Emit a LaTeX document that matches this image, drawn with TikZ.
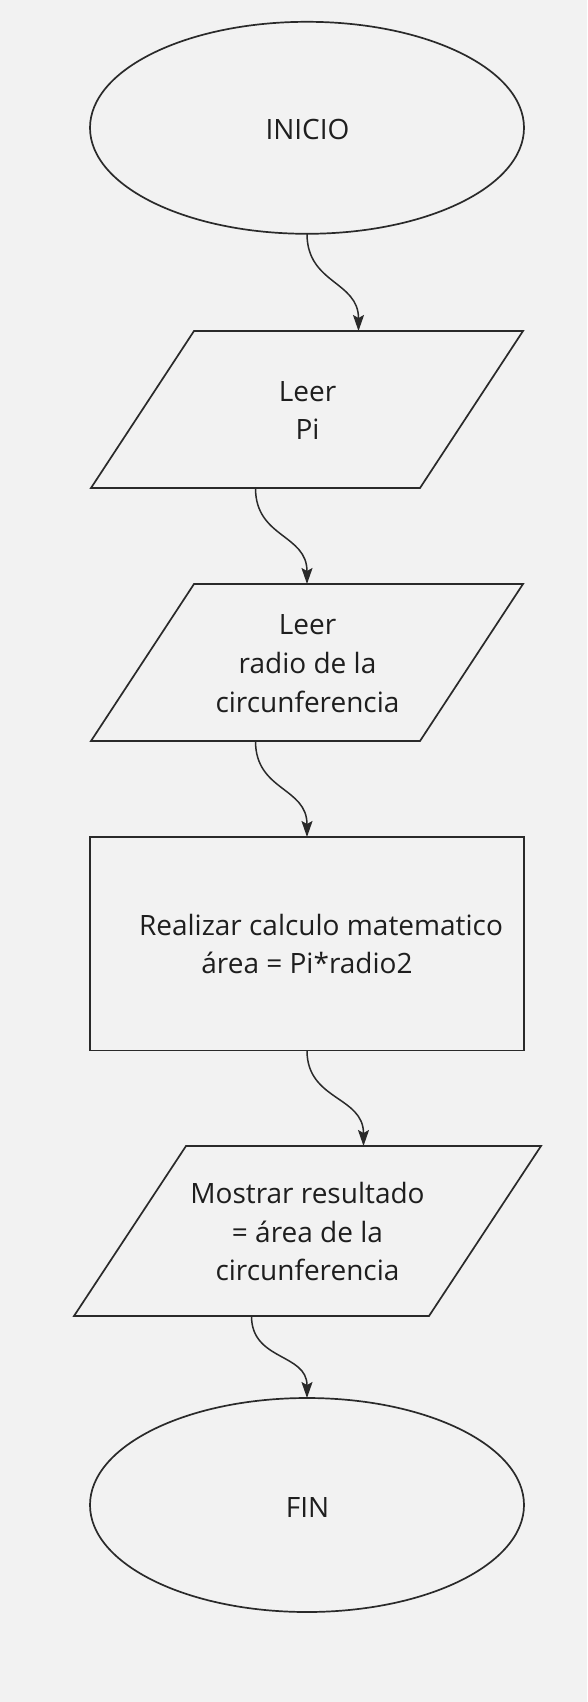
\documentclass[tikz,border=0pt]{standalone}
\usepackage{fontspec}
\setmainfont{Open Sans}
\usetikzlibrary{arrows.meta,shapes.geometric}
\definecolor{bg}{HTML}{F2F2F2}
\definecolor{ln}{HTML}{2A2A2A}
\definecolor{tx}{HTML}{1E1E1E}
\begin{document}
\begin{tikzpicture}[x=1pt,y=-1pt,
  shp/.style={draw=ln, line width=1.7pt, inner sep=0pt, outer sep=0pt},
  term/.style={shp, ellipse, minimum width=434pt, minimum height=212pt},
  procbox/.style={shp, rectangle, minimum width=434pt, minimum height=213.5pt},
  iobox/.style={rectangle, draw=none, inner sep=0pt, outer sep=0pt},
  txt/.style={anchor=base, inner sep=0pt, outer sep=0pt, text=tx, font=\fontsize{28}{38}\selectfont},
  flow/.style={draw=ln, line width=1.5pt, -{Stealth[length=16pt,width=11pt,inset=3pt]}},
]
\fill[bg] (0,0) rectangle (587,1702);
\useasboundingbox (0,0) rectangle (587,1702);

% INICIO
\node[term] (ini) at (307,127.8) {};
\node[txt] (tini) at (307.5,139) {INICIO};

% Leer Pi
\node[iobox, minimum width=329pt, minimum height=157pt] (p1) at (307,409.5) {};
\draw[shp] ([xshift=51.5pt]p1.north west) -- ([xshift=51.5pt]p1.north east)
  -- ([xshift=-51.5pt]p1.south east) -- ([xshift=-51.5pt]p1.south west) -- cycle;
\node[txt] (t1a) at (307.5,401) {Leer};
\node[txt] (t1b) at (307.5,439) {Pi};

% Leer radio
\node[iobox, minimum width=329pt, minimum height=157pt] (p2) at (307,662.5) {};
\draw[shp] ([xshift=51.5pt]p2.north west) -- ([xshift=51.5pt]p2.north east)
  -- ([xshift=-51.5pt]p2.south east) -- ([xshift=-51.5pt]p2.south west) -- cycle;
\node[txt] (t2a) at (307.5,634) {Leer};
\node[txt] (t2b) at (307.5,673) {radio de la};
\node[txt] (t2c) at (307.5,712) {circunferencia};

% Proceso
\node[procbox] (r1) at (307,943.75) {};
\node[txt] (t3a) at (321,935) {Realizar calculo matematico};
\node[txt] (t3b) at (307,973) {área = Pi*radio2};

% Mostrar
\node[iobox, minimum width=355pt, minimum height=170pt] (p3) at (307.5,1231) {};
\draw[shp] ([xshift=56pt]p3.north west) -- ([xshift=56pt]p3.north east)
  -- ([xshift=-56pt]p3.south east) -- ([xshift=-56pt]p3.south west) -- cycle;
\node[txt] (t4a) at (307.5,1203) {Mostrar resultado};
\node[txt] (t4b) at (307.5,1242) {= área de la};
\node[txt] (t4c) at (307.5,1280) {circunferencia};

% FIN
\node[term, minimum height=214pt] (fin) at (307,1505) {};
\node[txt] (tfin) at (307.5,1517) {FIN};

% connectors
\draw[flow] (ini.south) .. controls +(0,50) and +(0,-50) .. ([xshift=51.5pt]p1.north);
\draw[flow] ([xshift=-51.5pt]p1.south) .. controls +(0,50) and +(0,-50) .. (p2.north);
\draw[flow] ([xshift=-51.5pt]p2.south) .. controls +(0,50) and +(0,-50) .. (r1.north);
\draw[flow] (r1.south) .. controls +(0,50) and +(0,-50) .. ([xshift=56pt]p3.north);
\draw[flow] ([xshift=-56pt]p3.south) .. controls +(0,45) and +(0,-45) .. (fin.north);
\end{tikzpicture}
\end{document}
